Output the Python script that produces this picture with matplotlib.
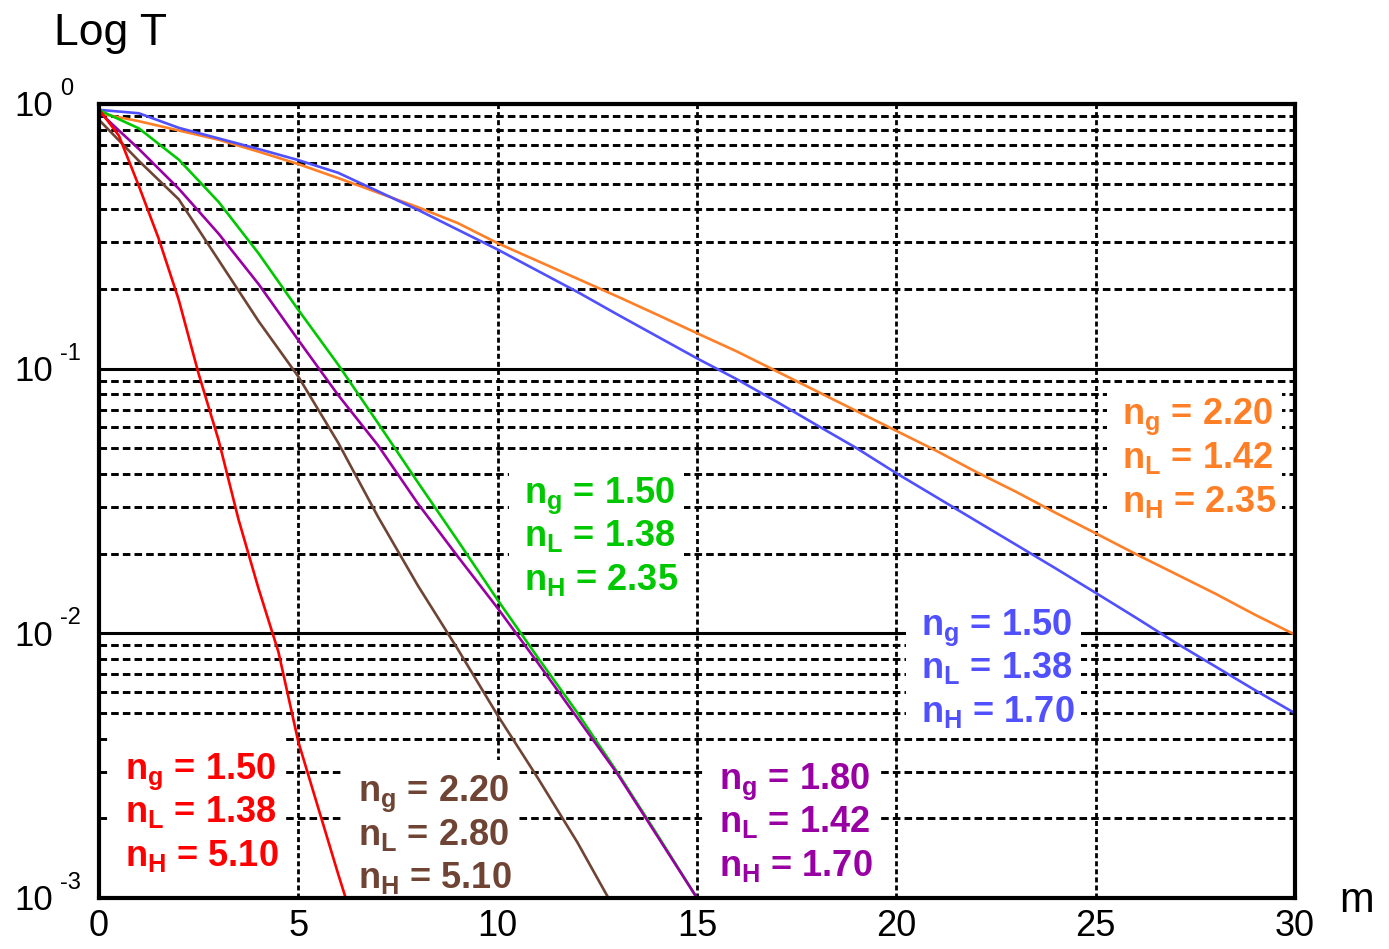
import numpy as np
import matplotlib
matplotlib.use("Agg")
import matplotlib.pyplot as plt
from matplotlib.patches import Rectangle
from matplotlib.ticker import LogLocator, NullFormatter

plt.rcParams['font.family'] = ['Liberation Sans', 'DejaVu Sans']
plt.rcParams['mathtext.fontset'] = 'custom'
plt.rcParams['mathtext.rm'] = 'Liberation Sans:bold'
plt.rcParams['mathtext.bf'] = 'Liberation Sans:bold'

# number of periods m
m_long = np.arange(0, 31)
m_mid = np.arange(0, 16)
m_brown = np.arange(0, 14)
m_red = np.arange(0, 7, 0.5)

# log10 of transmission for each stack
blue_logT = [-0.022, -0.035, -0.09, -0.13, -0.17, -0.212, -0.26, -0.33, -0.40, -0.475,
             -0.55, -0.63, -0.71, -0.795, -0.878, -0.961, -1.04, -1.125, -1.213, -1.30,
             -1.395, -1.485, -1.575, -1.665, -1.755, -1.847, -1.94, -2.035, -2.125, -2.215,
             -2.302]
orange_logT = [-0.035, -0.065, -0.10, -0.135, -0.18, -0.227, -0.28, -0.335, -0.39, -0.45,
               -0.526, -0.593, -0.66, -0.727, -0.796, -0.866, -0.935, -1.01, -1.085, -1.16,
               -1.235, -1.31, -1.39, -1.465, -1.545, -1.622, -1.70, -1.775, -1.85, -1.93,
               -2.005]
green_logT = [-0.023, -0.092, -0.21, -0.37, -0.564, -0.778, -0.985, -1.206, -1.43, -1.65,
              -1.874, -2.09, -2.30, -2.525, -2.76, -3.0]
purple_logT = [-0.03, -0.17, -0.32, -0.49, -0.68, -0.892, -1.10, -1.29, -1.51, -1.71,
               -1.905, -2.11, -2.32, -2.53, -2.765, -3.0]
brown_logT = [-0.06, -0.215, -0.36, -0.59, -0.82, -1.03, -1.28, -1.56, -1.82, -2.06,
              -2.31, -2.545, -2.79, -3.06]
red_logT = [-0.02, -0.12, -0.31, -0.51, -0.74, -1.02, -1.27, -1.57, -1.83, -2.07,
            -2.41, -2.66, -2.91, -3.15]

# refractive indices (n_g, n_L, n_H) for each curve
red_n = ("1.50", "1.38", "5.10")
brown_n = ("2.20", "2.80", "5.10")
purple_n = ("1.80", "1.42", "1.70")
green_n = ("1.50", "1.38", "2.35")
blue_n = ("1.50", "1.38", "1.70")
orange_n = ("2.20", "1.42", "2.35")

x_ticks = [0, 5, 10, 15, 20, 25, 30]
y_exps = [0, -1, -2, -3]

RED = '#FF0000'
BLUE = '#5050FF'
ORANGE = '#FF7F27'
GREEN = '#00C800'
PURPLE = '#9900A3'
BROWN = '#6F4434'

W, H = 1389, 949
AX_L, AX_T, AX_W, AX_H = 99, 104, 1196, 794
fig = plt.figure(figsize=(W / 100, H / 100), dpi=100)
ax = fig.add_axes([AX_L / W, 1 - (AX_T + AX_H) / H, AX_W / W, AX_H / H])

ax.set_yscale('log')
ax.set_xlim(0, 30)
ax.set_ylim(1e-3, 1)

curves = [
    (m_long, orange_logT, ORANGE),
    (m_long, blue_logT, BLUE),
    (m_brown, brown_logT, BROWN),
    (m_mid, green_logT, GREEN),
    (m_mid, purple_logT, PURPLE),
    (m_red, red_logT, RED),
]
for xs, lt, c in curves:
    ax.plot(xs, 10 ** np.array(lt), color=c, lw=1.9, zorder=5)

# grid
ax.set_axisbelow(True)
ax.yaxis.set_major_locator(LogLocator(base=10, numticks=10))
ax.yaxis.set_minor_locator(LogLocator(base=10, subs=np.arange(2, 10), numticks=10))
ax.yaxis.set_minor_formatter(NullFormatter())
ax.set_xticks(x_ticks)
ax.yaxis.grid(True, which='major', color='black', lw=2.2, ls='-')
ax.yaxis.grid(True, which='minor', color='black', lw=2.1, ls=(0, (2.6, 1.4)))
ax.xaxis.grid(True, which='major', color='black', lw=2.0, ls=(0, (1.8, 1.1)))

for s in ax.spines.values():
    s.set_linewidth(3)
    s.set_zorder(6)

ax.tick_params(axis='both', which='both', length=0)
ax.tick_params(axis='x', labelsize=26, pad=8)
ax.set_yticklabels([])

for e in y_exps:
    ax.annotate("10", xy=(0, 10.0 ** e), xycoords=('axes fraction', 'data'),
                xytext=(-46, -12.5), textcoords='offset pixels',
                ha='right', va='baseline', fontsize=25)
    ax.annotate("%d" % e, xy=(0, 10.0 ** e), xycoords=('axes fraction', 'data'),
                xytext=(-39, 9), textcoords='offset pixels',
                ha='left', va='baseline', fontsize=17)

fig.text(54 / W, 1 - 45 / H, "Log T", fontsize=32, ha='left', va='baseline')
fig.text(1339 / W, 1 - 912 / H, "m", fontsize=30, ha='left', va='baseline')


def px_axes(x_px, y_px):
    return (x_px - AX_L) / AX_W, 1 - (y_px - AX_T) / AX_H


def label(x_px, y_px, n, color):
    # white block behind the three lines of text
    x0, y0 = px_axes(x_px - 15, y_px + 2 * 43.5 + 28)
    x1, y1 = px_axes(x_px + 160, y_px - 28)
    ax.add_patch(Rectangle((x0, y0), x1 - x0, y1 - y0, transform=ax.transAxes,
                           facecolor='white', edgecolor='none', zorder=3))
    for i, (sub, val) in enumerate(zip(['g', 'L', 'H'], n)):
        tx, ty = px_axes(x_px, y_px + 13.5 + i * 43.5)
        ax.text(tx, ty, "n$_\\mathbf{%s}$ = %s" % (sub, val),
                transform=ax.transAxes, color=color, fontsize=26,
                fontweight='bold', ha='left', va='baseline', zorder=4)


label(125, 765, red_n, RED)
label(358, 788, brown_n, BROWN)
label(719, 775, purple_n, PURPLE)
label(524, 489, green_n, GREEN)
label(921, 621, blue_n, BLUE)
label(1122, 411, orange_n, ORANGE)

fig.savefig("out.png", dpi=100)
